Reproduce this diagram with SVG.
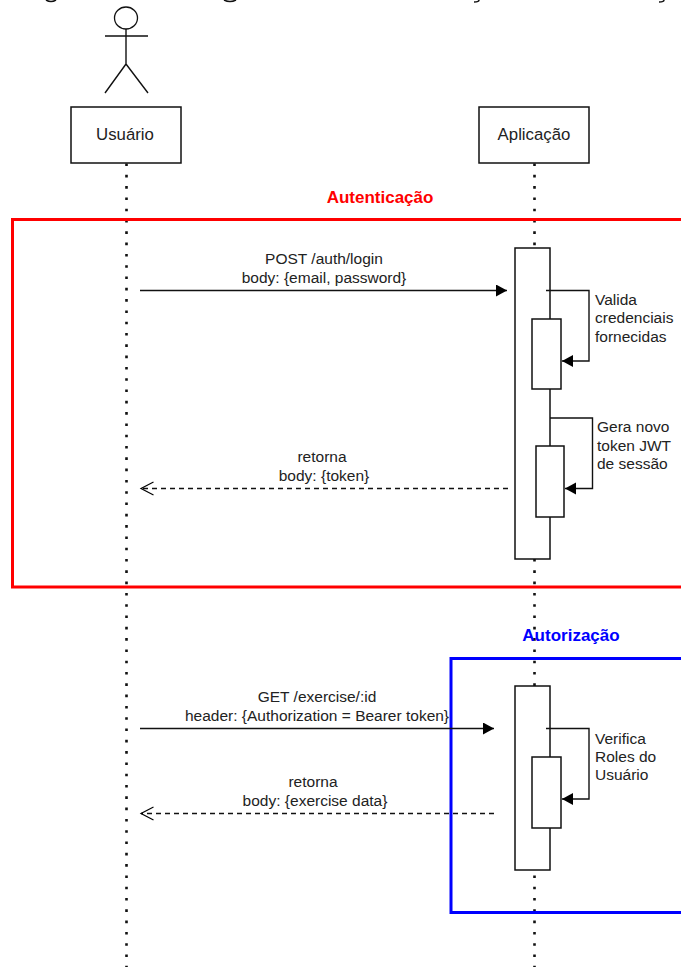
<svg xmlns="http://www.w3.org/2000/svg" width="681" height="967" viewBox="0 0 681 967">
<defs>
<marker id="solid" markerUnits="userSpaceOnUse" markerWidth="14" markerHeight="14" refX="11" refY="6" orient="auto"><path d="M0 0L11 6L0 12Z" fill="#000"/></marker>
<marker id="open" markerUnits="userSpaceOnUse" markerWidth="16" markerHeight="16" refX="13" refY="7" orient="auto"><path d="M0.5 0.5L13 7L0.5 13.500" fill="none" stroke="#000" stroke-width="1.200"/></marker>
</defs>
<style>
text{font-family:"Liberation Sans",Arial,sans-serif;font-size:15.500px;fill:#222;text-anchor:middle}
.b{fill:#fff;stroke:#111;stroke-width:1.500}
.life{fill:none;stroke:#111;stroke-width:2.600;stroke-dasharray:2.600 8.700}
.c{fill:none;stroke:#111;stroke-width:1.400}
.t{text-anchor:start}
.h{font-weight:bold;font-size:17px}
.n{font-size:16.800px}
.edge{fill:none;stroke:#111;stroke-width:1.500}
</style>
<rect width="681" height="967" fill="#fff"/>
<path class="edge" d="M46 0Q51 3 56 0M224 0Q230 3 236 0M474 2Q479 2 479 0M659 2Q664 2 664 0"/>
<g id="lifelines">
<path class="life" d="M126.500 163.500V967"/>
<path class="life" d="M534.500 163.500V967"/>
</g>
<g id="group-autenticacao">
<rect x="12.500" y="219.500" width="680" height="367.500" fill="none" stroke="#f00" stroke-width="3"/>
<text class="h" x="380" y="203" style="fill:#f00">Autenticação</text>
</g>
<g id="group-autorizacao">
<rect x="451" y="658.500" width="240" height="254" fill="none" stroke="#00f" stroke-width="3"/>
<text class="h" x="571" y="641" style="fill:#00f">Autorização</text>
</g>
<g id="actor">
<ellipse cx="126" cy="18" rx="11.500" ry="11" fill="#fff" stroke="#111" stroke-width="1.300"/>
<path class="c" d="M126 29V64M105 36H148M126 64L105 93M126 64L148 93"/>
</g>
<g id="usuario"><rect class="b" x="71" y="107" width="110" height="56"/><text class="n" x="125" y="140">Usuário</text></g>
<g id="aplicacao"><rect class="b" x="479" y="107" width="110" height="56"/><text class="n" x="534" y="140">Aplicação</text></g>
<g id="act-auth"><rect class="b" x="515" y="248" width="35" height="311"/></g>
<g id="act-valida"><rect class="b" x="532" y="319" width="29" height="70"/></g>
<g id="act-gera"><rect class="b" x="536" y="446" width="28" height="71"/></g>
<g id="act-autz"><rect class="b" x="515" y="686" width="35" height="184"/></g>
<g id="act-verifica"><rect class="b" x="532" y="757" width="29" height="71"/></g>
<g id="connectors">
<path class="c" marker-end="url(#solid)" d="M140 290.500H507"/>
<path class="c" stroke-dasharray="5 4" marker-end="url(#open)" d="M508 488.500H141"/>
<path class="c" marker-end="url(#solid)" d="M546 290.500H589V361H562"/>
<path class="c" marker-end="url(#solid)" d="M550 418H592.500V488.500H565"/>
<path class="c" marker-end="url(#solid)" d="M140 728.500H494"/>
<path class="c" stroke-dasharray="5 4" marker-end="url(#open)" d="M494 813.500H141"/>
<path class="c" marker-end="url(#solid)" d="M546 728.500H589V799H562"/>
</g>
<g id="labels">
<text x="324" y="264">POST /auth/login</text>
<text x="324" y="283">body: {email, password}</text>
<text x="322" y="462">retorna</text>
<text x="324" y="481">body: {token}</text>
<text x="317" y="702">GET /exercise/:id</text>
<text x="317" y="721">header: {Authorization = Bearer token}</text>
<text x="313" y="787">retorna</text>
<text x="315" y="806">body: {exercise data}</text>
<text class="t" x="595" y="305">Valida</text>
<text class="t" x="595" y="323">credenciais</text>
<text class="t" x="595" y="342">fornecidas</text>
<text class="t" x="597" y="432">Gera novo</text>
<text class="t" x="597" y="451">token JWT</text>
<text class="t" x="597" y="469">de sessão</text>
<text class="t" x="595" y="744">Verifica</text>
<text class="t" x="595" y="762">Roles do</text>
<text class="t" x="595" y="780">Usuário</text>
</g>
</svg>
